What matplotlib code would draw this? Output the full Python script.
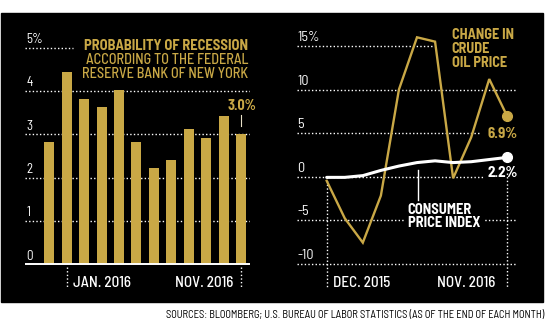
import matplotlib
matplotlib.use("Agg")
import matplotlib.pyplot as plt
from matplotlib import font_manager
from matplotlib.patches import Rectangle
import matplotlib.transforms as mtransforms

# ---- data ----
recession_months = ["DEC", "JAN", "FEB", "MAR", "APR", "MAY", "JUN", "JUL",
                    "AUG", "SEP", "OCT", "NOV"]
recession_prob = [2.82, 4.44, 3.82, 3.63, 4.02, 2.82, 2.22, 2.41, 3.12, 2.92, 3.42, 3.0]
left_ticks = [0, 1, 2, 3, 4, 5]
left_tick_labels = ["0", "1", "2", "3", "4", "5%"]

oil_change = [-0.5, -4.8, -7.6, -2.2, 10.0, 16.0, 15.5, -0.2, 4.5, 11.2, 6.9]
cpi_change = [-0.1, -0.1, 0.1, 0.7, 1.2, 1.6, 1.8, 1.6, 1.7, 1.95, 2.2]
right_ticks = [-10, -5, 0, 5, 10, 15]
right_tick_labels = ["-10", "-5", "0", "5", "10", "15%"]

GOLD = "#C9A846"
W, H = 545, 325

names = {f.name for f in font_manager.fontManager.ttflist}
FONT = "Barlow Semi Condensed" if "Barlow Semi Condensed" in names else "DejaVu Sans"


def fx(px):
    return px / W


def fy(py):
    return 1 - py / H


def ftext(px, py, s, **kw):
    kw.setdefault("family", FONT)
    fig.text(fx(px), fy(py), s, va="baseline", **kw)


fig = plt.figure(figsize=(W / 100, H / 100), dpi=100)
fig.patch.set_facecolor("white")
fig.patches.append(Rectangle((fx(1), fy(302)), fx(542), 289 / H,
                             transform=fig.transFigure, color="black", zorder=-10))

dots = (0, (1, 1.6))

# ---- left panel: recession probability ----
ax1 = fig.add_axes([fx(25), fy(270), fx(225), 240 / H])
ax1.set_facecolor("none")
bar_px0, bar_step = 49.2, 17.45
ax1.set_xlim((25 - bar_px0) / bar_step, (250 - bar_px0) / bar_step)
ax1.set_ylim((264.3 - 270) / 43.3, (264.3 - 30) / 43.3)
ax1.axis("off")

x1 = list(range(len(recession_prob)))
for v in left_ticks[1:]:
    right_end = (73 - bar_px0) / bar_step if v == 5 else ax1.get_xlim()[1]
    ax1.plot([ax1.get_xlim()[0], right_end], [v, v], color="white",
             lw=1, ls=dots, zorder=1)
ax1.bar(x1, recession_prob, width=0.57, color=GOLD, zorder=2)
ax1.axhline(0, color="white", lw=1.4, zorder=3)

trans1 = mtransforms.blended_transform_factory(ax1.transAxes, ax1.transData)
for v, lab in zip(left_ticks, left_tick_labels):
    ax1.text(0.005, v + 4.8 / 43.3, lab, transform=trans1, color="white",
             fontsize=9.4, family=FONT, va="baseline", ha="left")

# x ticks (Jan 2016, Nov 2016)
for i in (1, 11):
    ax1.plot([i, i], [-0.06, -0.52], color="white", lw=1, ls=dots, clip_on=False)
ftext(73, 286.7, "JAN. 2016", color="white", fontsize=10.9, weight="medium", ha="left")
ftext(233, 286.7, "NOV. 2016", color="white", fontsize=10.9, weight="medium", ha="right")

# last value callout
ax1.plot([11, 11], [3.19, 3.45], color="#e8e0c8", lw=0.8)
ftext(241.5, 110, "3.0%", color=GOLD, fontsize=10.2, weight="bold", ha="center")

ftext(248, 50, "PROBABILITY OF RECESSION", color=GOLD, fontsize=10.45,
      weight="bold", ha="right")
ftext(248, 64.3, "ACCORDING TO THE FEDERAL", color=GOLD, fontsize=10.3,
      weight="medium", ha="right")
ftext(248, 78, "RESERVE BANK OF NEW YORK", color=GOLD, fontsize=10.3,
      weight="medium", ha="right")

# ---- right panel: oil price and CPI ----
ax2 = fig.add_axes([fx(297), fy(270), fx(219.7), 240 / H])
ax2.set_facecolor("none")
pt_px0, pt_step = 326.7, 18.06
ax2.set_xlim((297 - pt_px0) / pt_step, (516.7 - pt_px0) / pt_step)
ax2.set_ylim((176.5 - 270) / 8.7, (176.5 - 30) / 8.7)
ax2.axis("off")

grid_end_px = {15: 433, 10: 516.7, 5: 480, 0: 483, -5: 516.7, -10: 516.7}
for v in right_ticks:
    ax2.plot([ax2.get_xlim()[0], (grid_end_px[v] - pt_px0) / pt_step], [v, v],
             color="white", lw=1, ls=dots, zorder=1)

x2 = list(range(len(oil_change)))
last = x2[-1]
# date ticks (Dec 2015, Nov 2016)
ax2.plot([0, 0], [0, -12.67], color="white", lw=1, ls=dots, clip_on=False, zorder=1)
ax2.plot([last, last], [0.4, -12.67], color="white", lw=1, ls=dots, clip_on=False, zorder=1)

ax2.plot(x2, oil_change, color=GOLD, lw=1.7, zorder=3, solid_joinstyle="miter")
ax2.plot([last], [oil_change[-1]], "o", ms=7, color=GOLD, zorder=4)
ax2.plot(x2, cpi_change, color="white", lw=2.2, zorder=4,
         solid_joinstyle="round", solid_capstyle="round")
ax2.plot([last], [cpi_change[-1]], "o", ms=7, color="white", zorder=5)

trans2 = mtransforms.blended_transform_factory(ax2.transAxes, ax2.transData)
for v, lab in zip(right_ticks, right_tick_labels):
    ax2.text(0.0, v + 4.6 / 8.7, lab, transform=trans2, color="white",
             fontsize=10.2, family=FONT, va="baseline", ha="left")

# CPI pointer
px_ptr = (418.3 - pt_px0) / pt_step
ax2.plot([px_ptr, px_ptr], [0.75, -2.7], color="white", lw=1, zorder=3)

ftext(333, 286.7, "DEC. 2015", color="white", fontsize=10.9, weight="medium", ha="left")
ftext(495, 286.7, "NOV. 2016", color="white", fontsize=10.9, weight="medium", ha="right")

ftext(487, 138.3, "6.9%", color=GOLD, fontsize=10.8, weight="bold")
ftext(487, 177, "2.2%", color="white", fontsize=10.8, weight="bold")

for py, s in zip((39, 53.3, 66.7), ("CHANGE IN", "CRUDE", "OIL PRICE")):
    ftext(451.7, py, s, color=GOLD, fontsize=10.3, weight="bold")

ftext(407.7, 227.3, "PRICE INDEX", color="white", fontsize=10.4, weight="bold", zorder=6,
      bbox=dict(facecolor="black", edgecolor="none", pad=2.5))
ftext(407.7, 214, "CONSUMER", color="white", fontsize=10.4, weight="bold", zorder=7)

ftext(544, 318.3,
      "SOURCES: BLOOMBERG; U.S. BUREAU OF LABOR STATISTICS (AS OF THE END OF EACH MONTH)",
      color="black", fontsize=7.55, ha="right")

fig.savefig("out.png", dpi=100, facecolor=fig.get_facecolor())
